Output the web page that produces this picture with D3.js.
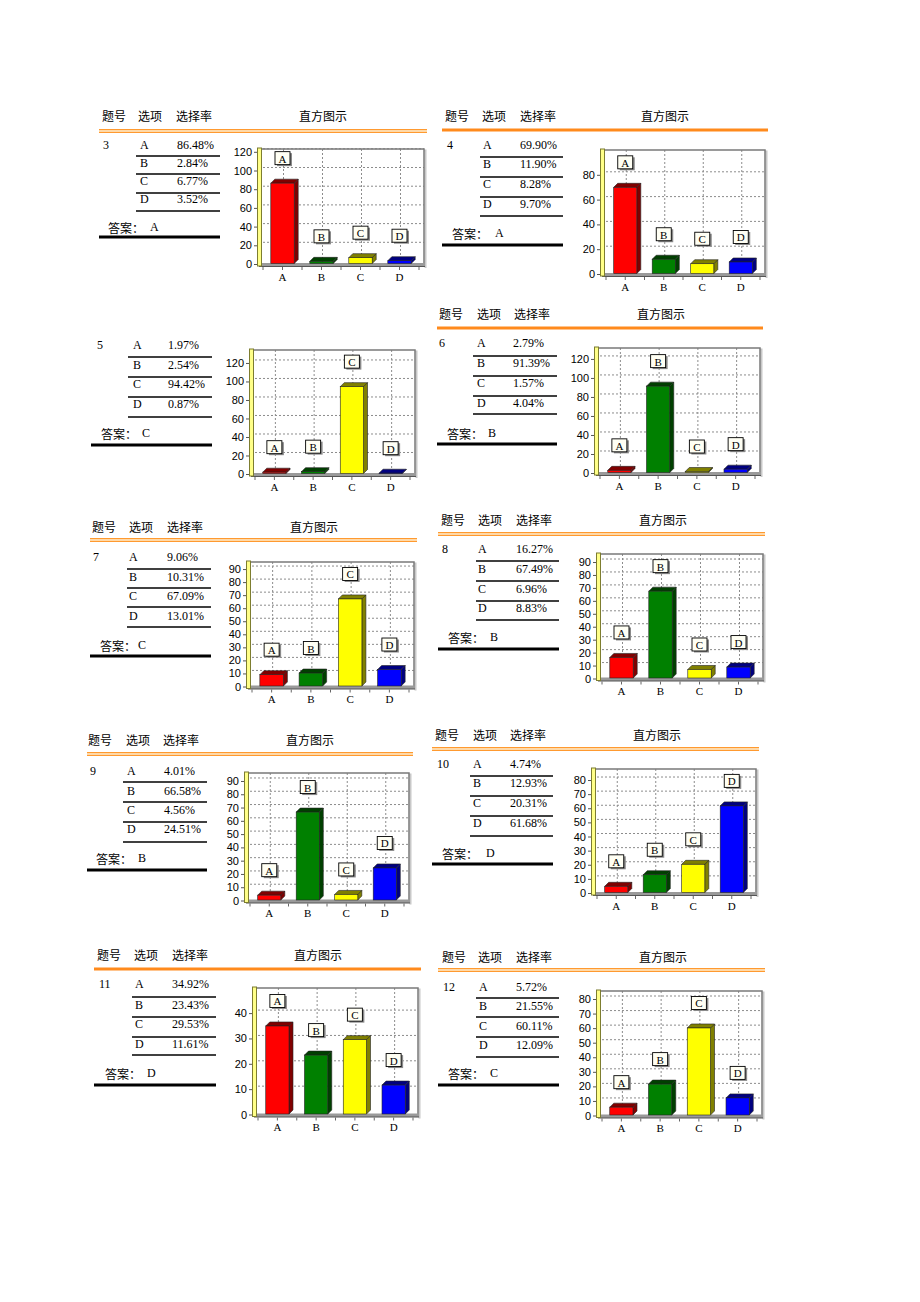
<!DOCTYPE html>
<html><head><meta charset="utf-8">
<script src="https://cdn.jsdelivr.net/npm/d3@7"></script>
<style>
body{margin:0;background:#fff}
.cjk{font-family:"Noto Sans CJK SC",sans-serif;font-size:12px;fill:#000}
.ser{font-family:"Liberation Serif",serif;font-size:12px;fill:#000}
</style>
</head><body><svg id="c" width="920" height="1302"></svg>
<script>
// ---- data ----
const options = ["A","B","C","D"];
const questionNumbers = ["3","4","5","6","7","8","9","10","11","12"];
const answers = ["A","A","C","B","C","B","B","D","D","C"];
const rates3 = [86.48, 2.84, 6.77, 3.52];
const rates4 = [69.90, 11.90, 8.28, 9.70];
const rates5 = [1.97, 2.54, 94.42, 0.87];
const rates6 = [2.79, 91.39, 1.57, 4.04];
const rates7 = [9.06, 10.31, 67.09, 13.01];
const rates8 = [16.27, 67.49, 6.96, 8.83];
const rates9 = [4.01, 66.58, 4.56, 24.51];
const rates10 = [4.74, 12.93, 20.31, 61.68];
const rates11 = [34.92, 23.43, 29.53, 11.61];
const rates12 = [5.72, 21.55, 60.11, 12.09];
const rates = [rates3, rates4, rates5, rates6, rates7, rates8, rates9, rates10, rates11, rates12];
const tickMax = [120, 80, 120, 120, 90, 90, 90, 80, 40, 80];
const tickStep = [20, 20, 20, 20, 10, 10, 10, 10, 10, 10];
const axisMax = [123, 100, 134, 131.5, 95.4, 96.2, 96, 87.8, 49.9, 85.5];
const headerLabels = ["题号", "选项", "选择率", "直方图示"];
const answerLabel = "答案：";
const barColors = ["#ff0000", "#008000", "#ffff00", "#0000ff"];
const barShades = ["#800000", "#004000", "#808000", "#000080"];

// ---- layout (pixel positions of each panel) ----
const layout = [
 {hdr:{y:115,x:[102,138,176],xc:323}, rule:{y:131,x0:99,x1:427,type:"double"},
  tbl:{numX:103,optX:140,valX:177,rowY:[145,163,181,199],lineY:[156,174,193,211],lx0:136,lx1:220},
  ans:{x:108,y:227,vx:150}, thick:{y:237,x0:99,x1:220}, chart:{x0:259,x1:424,top:149,base:264}},
 {hdr:{y:115,x:[445,482,520],xc:665}, rule:{y:130,x0:442,x1:768,type:"solid"},
  tbl:{numX:447,optX:483,valX:520,rowY:[145,164,184,204],lineY:[157,177,197,216],lx0:480,lx1:563},
  ans:{x:452,y:233,vx:495}, thick:{y:245,x0:442,x1:563}, chart:{x0:602,x1:765,top:150,base:274}},
 {hdr:null, rule:null,
  tbl:{numX:97,optX:133,valX:168,rowY:[345,365,384,404],lineY:[357,377,397,417],lx0:128,lx1:212},
  ans:{x:101,y:433,vx:142}, thick:{y:445,x0:91,x1:212}, chart:{x0:251,x1:415,top:350,base:474}},
 {hdr:{y:313,x:[439,477,514],xc:661}, rule:{y:328,x0:437,x1:763,type:"solid"},
  tbl:{numX:439,optX:477,valX:513,rowY:[343,363,383,403],lineY:[356,376,396,414],lx0:473,lx1:557},
  ans:{x:447,y:433,vx:488}, thick:{y:444,x0:437,x1:557}, chart:{x0:596,x1:760,top:348,base:473}},
 {hdr:{y:526,x:[92,129,167],xc:314}, rule:{y:540,x0:90,x1:417,type:"double"},
  tbl:{numX:93,optX:129,valX:167,rowY:[557,577,596,616],lineY:[569,588,607,627],lx0:127,lx1:211},
  ans:{x:100,y:645,vx:138}, thick:{y:656,x0:90,x1:211}, chart:{x0:248,x1:414,top:562,base:686.5}},
 {hdr:{y:519,x:[441,478,516],xc:663}, rule:{y:534,x0:438,x1:765,type:"double"},
  tbl:{numX:442,optX:478,valX:516,rowY:[549,569,589,608],lineY:[561,581,601,620],lx0:476,lx1:559},
  ans:{x:448,y:637,vx:490}, thick:{y:649,x0:438,x1:559}, chart:{x0:598,x1:763,top:554,base:678.5}},
 {hdr:{y:739,x:[88,126,163],xc:310}, rule:{y:754,x0:87,x1:413,type:"double"},
  tbl:{numX:90,optX:127,valX:164,rowY:[771,791,810,829],lineY:[782,802,822,842],lx0:123,lx1:207},
  ans:{x:96,y:858,vx:138}, thick:{y:870,x0:87,x1:207}, chart:{x0:246,x1:409,top:773,base:900.5}},
 {hdr:{y:734,x:[435,473,510],xc:657}, rule:{y:749,x0:432,x1:759,type:"double"},
  tbl:{numX:437,optX:473,valX:510,rowY:[764,783,803,823],lineY:[776,796,816,836],lx0:470,lx1:553},
  ans:{x:442,y:853,vx:486}, thick:{y:864,x0:432,x1:553}, chart:{x0:593,x1:756,top:769,base:893}},
 {hdr:{y:954,x:[97,134,172],xc:318}, rule:{y:969,x0:94,x1:421,type:"solid"},
  tbl:{numX:99,optX:135,valX:172,rowY:[984,1005,1024,1044],lineY:[997,1017,1037,1055],lx0:132,lx1:216},
  ans:{x:105,y:1073,vx:147}, thick:{y:1085,x0:94,x1:216}, chart:{x0:254,x1:418,top:988,base:1114.5}},
 {hdr:{y:956,x:[442,478,516],xc:663}, rule:{y:970,x0:438,x1:765,type:"double"},
  tbl:{numX:443,optX:479,valX:516,rowY:[987,1006,1026,1045],lineY:[998,1017,1037,1057],lx0:476,lx1:559},
  ans:{x:448,y:1073,vx:490}, thick:{y:1085,x0:438,x1:559}, chart:{x0:598,x1:762,top:991,base:1115.5}}
];

const svg = d3.select("#c");

function txt(g, x, y, s, cls, anchor) {
  return g.append("text").attr("x", x).attr("y", y).attr("dominant-baseline", "central")
    .attr("text-anchor", anchor || "start").attr("class", cls).text(s);
}
function hline(g, x0, x1, y, color, w) {
  return g.append("line").attr("x1", x0).attr("x2", x1).attr("y1", y).attr("y2", y)
    .attr("stroke", color).attr("stroke-width", w);
}

layout.forEach((L, i) => {
  const g = svg.append("g");
  const vals = rates[i];
  // header
  if (L.hdr) {
    L.hdr.x.forEach((x, k) => txt(g, x, L.hdr.y, headerLabels[k], "cjk"));
    txt(g, L.hdr.xc, L.hdr.y, headerLabels[3], "cjk", "middle");
  }
  if (L.rule) {
    if (L.rule.type === "solid") {
      hline(g, L.rule.x0, L.rule.x1, L.rule.y, "#ff8a1c", 3);
    } else {
      hline(g, L.rule.x0, L.rule.x1, L.rule.y, "#ffd9a8", 3);
      hline(g, L.rule.x0, L.rule.x1, L.rule.y - 1.5, "#ff9a30", 1.2);
      hline(g, L.rule.x0, L.rule.x1, L.rule.y + 1.5, "#ff9a30", 1.2);
    }
  }
  // table
  const T = L.tbl;
  txt(g, T.numX, T.rowY[0], questionNumbers[i], "ser");
  options.forEach((o, k) => {
    txt(g, T.optX, T.rowY[k], o, "ser");
    txt(g, T.valX, T.rowY[k], vals[k].toFixed(2) + "%", "ser");
    hline(g, T.lx0, T.lx1, T.lineY[k], "#000", 1.3);
  });
  txt(g, L.ans.x, L.ans.y, answerLabel, "cjk");
  txt(g, L.ans.vx, L.ans.y, answers[i], "ser");
  hline(g, L.thick.x0, L.thick.x1, L.thick.y, "#000", 3);

  // chart
  const C = L.chart;
  const x = d3.scaleBand().domain(options).range([C.x0 + 4, C.x1 - 5]).paddingInner(0.4).paddingOuter(0.2);
  const y = d3.scaleLinear().domain([0, axisMax[i]]).range([C.base, C.top]);
  const ticks = d3.range(0, tickMax[i] + 0.001, tickStep[i]);
  const bw = x.bandwidth();
  const d = 4;

  // frame shadow
  g.append("path").attr("d", `M${C.x0 + 3},${C.top + 1.5} H${C.x1 + 1.5} V${C.base + 4}`)
    .attr("fill", "none").attr("stroke", "#c8c8c8").attr("stroke-width", 2);
  g.append("rect").attr("x", C.x0).attr("y", C.top).attr("width", C.x1 - C.x0).attr("height", C.base - C.top).attr("fill", "#fff");
  // grid
  ticks.filter(t => t > 0).forEach(t => {
    g.append("line").attr("x1", C.x0 + 4).attr("x2", C.x1).attr("y1", y(t) - 3).attr("y2", y(t) - 3)
      .attr("stroke", "#8c8c8c").attr("stroke-width", 1).attr("stroke-dasharray", "2,2");
  });
  options.forEach(o => {
    const cx = x(o) + bw / 2 + 1;
    g.append("line").attr("x1", cx).attr("x2", cx).attr("y1", C.top).attr("y2", C.base)
      .attr("stroke", "#8c8c8c").attr("stroke-width", 1).attr("stroke-dasharray", "2,2");
  });
  // frame top & right
  g.append("path").attr("d", `M${C.x0},${C.top} H${C.x1} V${C.base}`)
    .attr("fill", "none").attr("stroke", "#7a7a7a").attr("stroke-width", 1.5);
  // floor
  g.append("rect").attr("x", C.x0).attr("y", C.base - 1).attr("width", C.x1 - C.x0 + 1).attr("height", 3.5).attr("fill", "#9a9a9a");
  hline(g, C.x0, C.x1 + 1, C.base + 2.5, "#555", 1);
  // wall
  g.append("rect").attr("x", C.x0 - 1.5).attr("y", C.top - 1).attr("width", 4).attr("height", C.base - C.top + 3)
    .attr("fill", "#ffff88").attr("stroke", "#7d7d30").attr("stroke-width", 1);

  // y axis
  const ya = g.append("g").attr("transform", `translate(${C.x0 - 2},0)`)
    .call(d3.axisLeft(y).tickValues(ticks).tickSize(3).tickPadding(2));
  ya.select(".domain").remove();
  ya.selectAll("line").attr("stroke", "#555");
  ya.selectAll("text").attr("font-family", "Liberation Sans, Arial, sans-serif").attr("font-size", 11).attr("fill", "#000");

  // x axis
  const xa = g.append("g").attr("transform", `translate(0,${C.base})`)
    .call(d3.axisBottom(x).tickSize(0).tickPadding(9));
  xa.select(".domain").remove();
  xa.selectAll("text").attr("font-family", "Liberation Serif, serif").attr("font-size", 11).attr("fill", "#000");
  // small floor ticks
  const tickXs = [];
  options.forEach(o => { tickXs.push(x(o) - x.step() * 0.2, x(o) + bw / 2); });
  tickXs.push(C.x1 - 5);
  tickXs.forEach(tx => {
    g.append("line").attr("x1", tx).attr("x2", tx).attr("y1", C.base + 3).attr("y2", C.base + 6)
      .attr("stroke", "#666").attr("stroke-width", 1);
  });

  // bars (3D)
  options.forEach((o, k) => {
    const x0 = x(o), yv = y(vals[k]), yb = C.base - 0.5;
    g.append("path").attr("d", `M${x0 + bw},${yv} L${x0 + bw + d},${yv - d} L${x0 + bw + d},${yb - d} L${x0 + bw},${yb} Z`)
      .attr("fill", barShades[k]).attr("stroke", "#222").attr("stroke-width", 0.6);
    g.append("path").attr("d", `M${x0},${yv} L${x0 + d},${yv - d} L${x0 + bw + d},${yv - d} L${x0 + bw},${yv} Z`)
      .attr("fill", barShades[k]).attr("stroke", "#222").attr("stroke-width", 0.6);
    g.append("rect").attr("x", x0).attr("y", yv).attr("width", bw).attr("height", Math.max(0, yb - yv))
      .attr("fill", barColors[k]).attr("stroke", "#222").attr("stroke-width", 0.6);
  });

  // label boxes
  options.forEach((o, k) => {
    const cx = x(o) + bw / 2, cy = y(vals[k]) - 25;
    g.append("rect").attr("x", cx - 7 + 1.5).attr("y", cy - 6.5 + 1.5).attr("width", 15).attr("height", 13).attr("fill", "#8a8a8a");
    g.append("rect").attr("x", cx - 7.5).attr("y", cy - 6.5).attr("width", 15).attr("height", 13)
      .attr("fill", "#fffff4").attr("stroke", "#000").attr("stroke-width", 0.9);
    g.append("text").attr("x", cx).attr("y", cy + 0.5).attr("text-anchor", "middle").attr("dominant-baseline", "central")
      .attr("font-family", "Liberation Serif, serif").attr("font-size", 11).attr("fill", "#000").text(o);
  });
});
</script>
</body></html>
